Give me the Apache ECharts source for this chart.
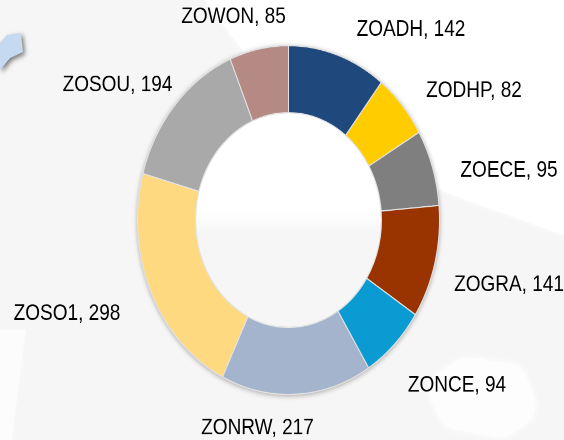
<!DOCTYPE html>
<html><head><meta charset="utf-8">
<style>html,body{margin:0;padding:0;background:#f6f6f6;width:564px;height:440px}#c{width:564px;height:381px;transform-origin:0 0;transform:scaleY(1.155)}</style>
<script src="https://cdn.jsdelivr.net/npm/echarts@6/dist/echarts.min.js"></script>
</head><body><div id="c"></div>
<script>
var categories=["ZOADH","ZODHP","ZOECE","ZOGRA","ZONCE","ZONRW","ZOSO1","ZOSOU","ZOWON"];
var values=[142,82,95,141,94,217,298,194,85];
var colors=["#1F497D","#FFCC00","#7F7F7F","#993300","#0A9BD3","#A3B4CC","#FFD97F","#A9A9A9","#B58A85"];
var labelPos=[[411,26],[474,79],[509,148],[509,247],[457,334],[257.5,371],[67,272],[117.5,74],[233.5,14.6]];
var S=1.155;
function P(a){return a.map(function(p){return [p[0],p[1]/S];});}
var cx=288.5,cy=190.5;
var chart=echarts.init(document.getElementById('c'),null,{devicePixelRatio:2});
chart.setOption({
 animation:false,
 backgroundColor:'#f6f6f6',
 graphic:[
  {type:'polygon',silent:true,z:0,shape:{points:P([[205,0],[564,0],[564,235],[480,205],[400,175],[330,130],[250,60]])},style:{fill:'#ffffff',shadowBlur:6,shadowColor:'#ffffff'}},
  {type:'polygon',silent:true,z:0,shape:{smooth:0.6,points:P([[440,372],[500,362],[530,385],[525,425],[470,432],[435,410]])},style:{fill:'#fdfdfd',shadowBlur:8,shadowColor:'#ffffff'}},
  {type:'polygon',silent:true,z:0,shape:{points:P([[0,330],[26,330],[12,440],[0,440]])},style:{fill:'#fcfcfc'}},
  {type:'polygon',silent:true,z:1,shape:{points:P([[0,43],[7,35],[21,33],[23,52],[10,58],[0,70]])},style:{fill:'#C5D9F1',shadowBlur:4,shadowOffsetX:2,shadowOffsetY:2,shadowColor:'rgba(0,0,0,0.5)'}},
  {type:'circle',silent:true,z:1,shape:{cx:cx,cy:cy,r:151.5},style:{fill:'#cccccc',shadowBlur:4,shadowOffsetY:1,shadowColor:'rgba(0,0,0,0.3)'}},
  {type:'circle',silent:true,z:1,shape:{cx:cx,cy:cy,r:92.5},style:{fill:{type:'linear',x:0,y:0,x2:0,y2:1,colorStops:[{offset:0,color:'#ffffff'},{offset:0.46,color:'#ffffff'},{offset:0.56,color:'#f6f6f6'},{offset:1,color:'#f6f6f6'}]}}}
 ],
 series:[{type:'pie',center:[cx,cy],radius:[93,151],startAngle:90,clockwise:true,
  data:categories.map(function(n,i){return{name:n,value:values[i],itemStyle:{color:colors[i]},
    label:{position:'outside'}};}),
  label:{formatter:'{b}, {c}',fontFamily:'Liberation Sans',fontSize:19,color:'#000',overflow:'none',width:200},
  labelLine:{show:false},
  itemStyle:{borderColor:'#e4e4e4',borderWidth:1},
  labelLayout:function(p){var l=labelPos[p.dataIndex];return{x:l[0],y:l[1],align:'center',verticalAlign:'middle'};}
 }]
});
</script></body></html>
